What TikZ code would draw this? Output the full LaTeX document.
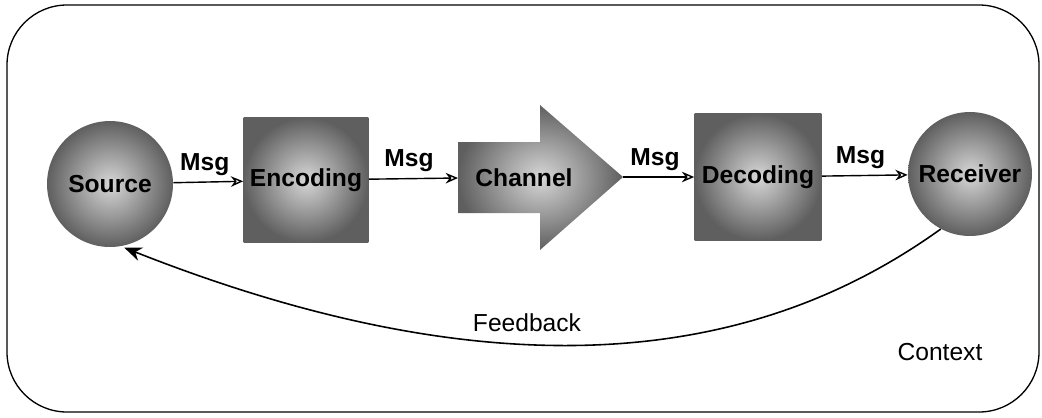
\documentclass[tikz,border=0pt]{standalone}
\usepackage{fontspec}
\setmainfont{Liberation Sans}
\usepackage{tikz}
\usetikzlibrary{arrows.meta}
\definecolor{grisfonce}{RGB}{95,95,95}
\definecolor{grisclair}{RGB}{215,215,215}

\begin{document}
\begin{tikzpicture}[x=0.02cm, y=-0.02cm,
  bloc/.style={shade, shading=radial, inner color=grisclair, outer color=grisfonce,
    font=\fontsize{14}{16}\selectfont\bfseries},
  rond/.style={bloc, circle, minimum size=2.52cm, inner sep=0pt},
  carre/.style={bloc, rectangle, minimum size=2.5cm, inner sep=0pt},
  msg/.style={line width=0.8pt, -{Stealth[open, length=7pt, width=6pt]}},
  etiq/.style={font=\fontsize{14}{16}\selectfont\bfseries, above, pos=0.45},
  texte/.style={font=\fontsize{14}{16}\selectfont}]

\useasboundingbox (0,0) rectangle (1042,417);

% Cadre du contexte
\draw[line width=0.75pt, rounded corners=1.2cm] (7,5) rectangle (1039,412);

% Emetteur et codage
\node[rond] (source) at (110,184) {Source};
\node[carre] (encoding) at (306,180) {Encoding};

% Canal
\shade[inner color=grisclair, outer color=grisfonce]
  (458,142) -- (540,142) -- (540,105) -- (623,177) -- (540,250) -- (540,213) -- (458,213) -- cycle;
\node[font=\fontsize{14}{16}\selectfont\bfseries] (channel) at (524,178) {Channel};
\coordinate (canalG) at (458,178);
\coordinate (canalD) at (623,177);

% Decodage et recepteur
\node[carre, minimum size=2.54cm] (decoding) at (758,177) {Decoding};
\node[rond, minimum size=2.48cm] (receiver) at (970,174) {Receiver};

% Messages
\draw[msg] (source) -- node[etiq] {Msg} (encoding);
\draw[msg] (encoding) -- node[etiq] {Msg} (canalG);
\draw[msg] (canalD) -- node[etiq] {Msg} (decoding);
\draw[msg] (decoding) -- node[etiq] {Msg} (receiver);

% Retour
\draw[line width=0.9pt, -{Stealth[length=10pt, width=8pt]}, shorten >=2pt]
  (receiver.-118) .. controls (800,330) and (560,420) .. (source.-80);

% Textes
\node[texte] (feedback) at (527,323) {Feedback};
\node[texte] (context) at (940,352) {Context};

\end{tikzpicture}
\end{document}
